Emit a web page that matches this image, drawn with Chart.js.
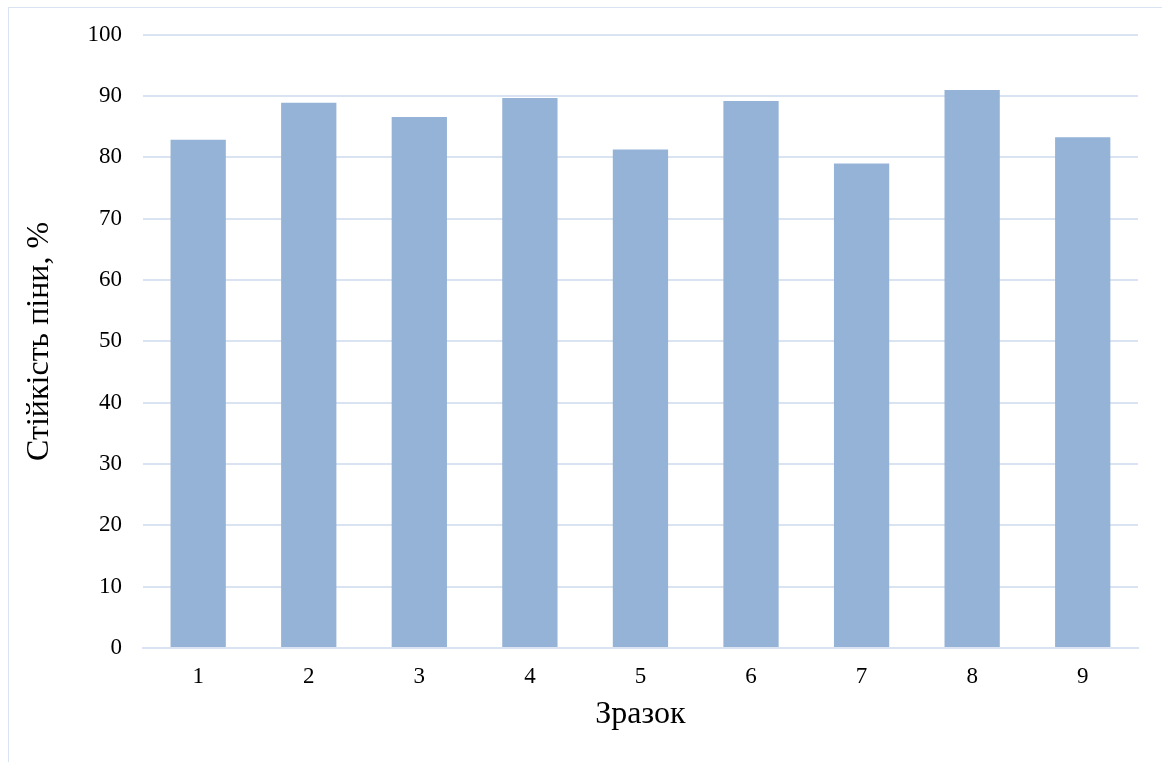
<!DOCTYPE html>
<html>
<head>
<meta charset="utf-8">
<script src="https://cdn.jsdelivr.net/npm/chart.js@4/dist/chart.umd.min.js"></script>
<style>
  html, body { margin: 0; padding: 0; background: #fff; overflow: hidden; }
  #wrap { position: relative; width: 1162px; height: 762px; }
  #frame { position: absolute; left: 8px; top: 7px; width: 1170px; height: 770px;
           border: 1px solid #d9e3f2; box-sizing: border-box; pointer-events: none; }
  canvas { position: absolute; left: 0; top: 0; }
</style>
</head>
<body>
<div id="wrap">
  <div id="frame"></div>
  <canvas id="c" width="1162" height="762"></canvas>
</div>
<script>
// Зразки та стійкість піни, %
const samples = ['1', '2', '3', '4', '5', '6', '7', '8', '9'];
const stability = [82.9, 88.9, 86.6, 89.7, 81.3, 89.2, 79.0, 91.0, 83.3];
const yTicks = [0, 10, 20, 30, 40, 50, 60, 70, 80, 90, 100];

const serif = "'Liberation Serif', 'Times New Roman', serif";
const gridColor = '#d9e3f2';

new Chart(document.getElementById('c'), {
  type: 'bar',
  data: {
    labels: samples,
    datasets: [{
      data: stability,
      backgroundColor: '#95b3d7',
      borderWidth: 0,
      categoryPercentage: 1.0,
      barPercentage: 0.5
    }]
  },
  options: {
    responsive: false,
    animation: false,
    devicePixelRatio: 1,
    layout: { padding: { left: 20, right: 24, top: 33, bottom: 28 } },
    plugins: { legend: { display: false }, tooltip: { enabled: false } },
    scales: {
      x: {
        grid: { display: false, drawTicks: false },
        border: { display: true, color: gridColor, width: 2 },
        ticks: { color: '#000', font: { family: serif, size: 23 }, padding: 15 },
        title: { display: true, text: 'Зразок', color: '#000',
                 font: { family: serif, size: 32 }, padding: { top: -10, bottom: 0 } }
      },
      y: {
        min: 0, max: 100,
        afterBuildTicks: (axis) => { axis.ticks = yTicks.map(v => ({ value: v })); },
        grid: { color: gridColor, lineWidth: 2, drawTicks: false },
        border: { display: false },
        ticks: { color: '#000', font: { family: serif, size: 23 }, padding: 21 },
        title: { display: true, text: 'Стійкість піни, %', color: '#000',
                 font: { family: serif, size: 32 }, padding: { top: 0, bottom: 8 } }
      }
    }
  }
});
</script>
</body>
</html>
